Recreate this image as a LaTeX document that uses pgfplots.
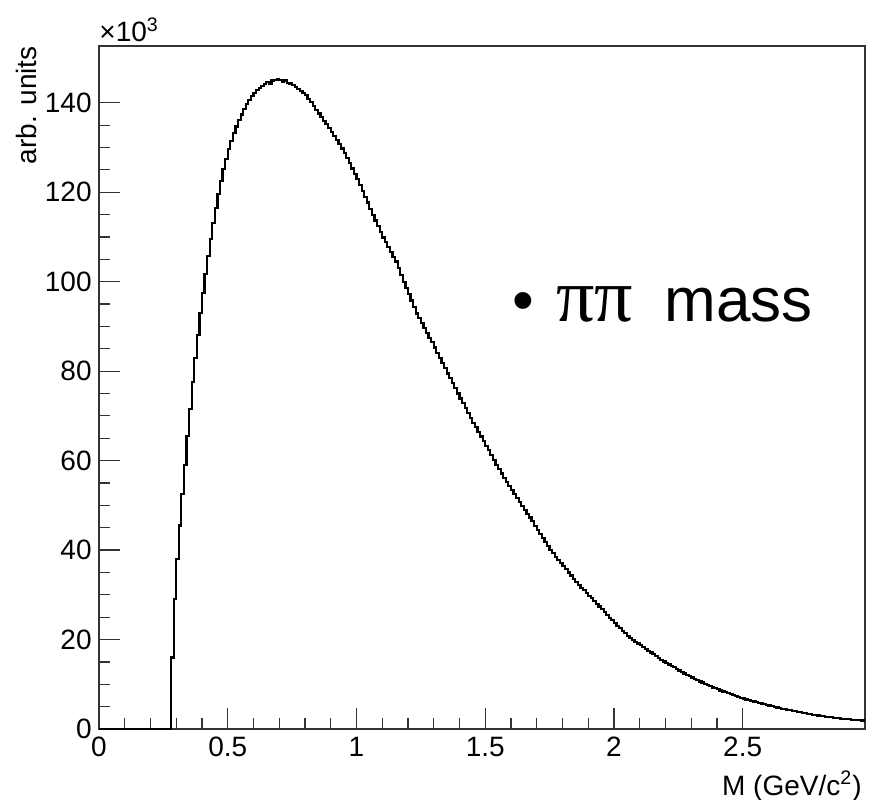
\documentclass[border=0pt]{standalone}
\usepackage{pgfplots}
\pgfplotsset{compat=1.18}
\usepackage{pgfplotstable}
\usepackage{fontspec}
\setmainfont{Liberation Sans}
\newfontfamily\pifont{Liberation Serif}

\pgfplotstableread[row sep=\\]{
x y\\
0 0\\
0.28 16\\ 0.29 29\\ 0.30 38\\ 0.31 45.5\\ 0.32 52.5\\ 0.33 59\\ 0.34 65.5\\ 0.35 71.5\\ 0.36 77.5\\ 0.37 83\\
0.38 88\\ 0.39 93\\ 0.40 97.5\\ 0.41 101.8\\ 0.42 105.8\\ 0.43 109.6\\ 0.44 113.2\\ 0.45 116.5\\ 0.46 119.6\\ 0.47 122.5\\
0.48 125.2\\ 0.49 127.5\\ 0.50 129.6\\ 0.51 131.5\\ 0.52 133.2\\ 0.53 134.7\\ 0.54 136.1\\ 0.55 137.4\\ 0.56 138.6\\ 0.57 139.7\\
0.58 140.7\\ 0.59 141.5\\ 0.60 142.2\\ 0.61 142.8\\ 0.62 143.3\\ 0.63 143.8\\ 0.64 144.2\\ 0.65 144.6\\ 0.66 144.3\\ 0.67 145.0\\
0.68 145.1\\ 0.69 145.3\\ 0.70 145.1\\ 0.71 144.7\\ 0.72 145.0\\ 0.73 144.5\\ 0.74 144.3\\ 0.75 143.9\\ 0.76 143.5\\ 0.77 143.1\\
0.78 142.6\\ 0.79 142.2\\ 0.80 141.7\\ 0.81 140.9\\ 0.82 140.1\\ 0.83 139.3\\ 0.84 138.4\\ 0.85 137.6\\ 0.86 136.8\\ 0.87 136.0\\
0.88 135.2\\ 0.89 134.4\\ 0.90 133.5\\ 0.91 132.6\\ 0.92 131.7\\ 0.93 130.8\\ 0.94 129.8\\ 0.95 128.7\\ 0.96 127.6\\ 0.97 126.5\\
0.98 125.3\\ 0.99 124.1\\ 1.00 122.9\\ 1.01 121.6\\ 1.02 120.3\\ 1.03 119.0\\ 1.04 117.7\\ 1.05 116.3\\ 1.06 115.0\\ 1.07 113.7\\
1.08 112.4\\ 1.09 111.1\\ 1.10 109.9\\ 1.11 108.8\\ 1.12 107.7\\ 1.13 106.6\\ 1.14 105.6\\ 1.15 104.5\\ 1.16 103.0\\ 1.17 101.5\\
1.18 100.0\\ 1.19 98.6\\ 1.20 97.2\\ 1.21 95.8\\ 1.22 94.3\\ 1.23 92.9\\ 1.24 91.8\\ 1.25 90.7\\ 1.26 89.6\\ 1.27 88.5\\
1.28 87.5\\ 1.29 86.5\\ 1.30 85.3\\ 1.31 84.1\\ 1.32 83.0\\ 1.33 81.8\\ 1.34 80.7\\ 1.35 79.5\\ 1.36 78.4\\ 1.37 77.3\\
1.38 76.2\\ 1.39 75.0\\ 1.40 73.9\\ 1.41 72.8\\ 1.42 71.7\\ 1.43 70.6\\ 1.44 69.6\\ 1.45 68.5\\ 1.46 67.5\\ 1.47 66.4\\
1.48 65.4\\ 1.49 64.3\\ 1.50 63.3\\ 1.51 62.3\\ 1.52 61.2\\ 1.53 60.2\\ 1.54 59.1\\ 1.55 58.1\\ 1.56 57.1\\ 1.57 56.2\\
1.58 55.3\\ 1.59 54.4\\ 1.60 53.5\\ 1.61 52.6\\ 1.62 51.7\\ 1.63 50.8\\ 1.64 49.9\\ 1.65 49.0\\ 1.66 48.1\\ 1.67 47.3\\
1.68 46.5\\ 1.69 45.4\\ 1.70 44.5\\ 1.71 43.6\\ 1.72 42.7\\ 1.73 41.8\\ 1.74 40.9\\ 1.75 40.1\\ 1.76 39.3\\ 1.77 38.5\\
1.78 37.8\\ 1.79 37.1\\ 1.80 36.4\\ 1.81 35.7\\ 1.82 35.0\\ 1.83 34.3\\ 1.84 33.6\\ 1.85 32.9\\ 1.86 32.2\\ 1.87 31.6\\
1.88 31.0\\ 1.89 30.4\\ 1.90 29.8\\ 1.91 29.2\\ 1.92 28.6\\ 1.93 28.0\\ 1.94 27.4\\ 1.95 26.8\\ 1.96 26.1\\ 1.97 25.5\\
1.98 24.9\\ 1.99 24.3\\ 2.00 23.7\\ 2.01 23.1\\ 2.02 22.5\\ 2.03 21.9\\ 2.04 21.4\\ 2.05 20.8\\ 2.06 20.3\\ 2.07 19.9\\
2.08 19.5\\ 2.09 19.1\\ 2.10 18.7\\ 2.11 18.3\\ 2.12 17.9\\ 2.13 17.5\\ 2.14 17.1\\ 2.15 16.7\\ 2.16 16.3\\ 2.17 15.9\\
2.18 15.5\\ 2.19 15.1\\ 2.20 14.8\\ 2.21 14.4\\ 2.22 14.1\\ 2.23 13.8\\ 2.24 13.4\\ 2.25 13.1\\ 2.26 12.7\\ 2.27 12.4\\
2.28 12.1\\ 2.29 11.8\\ 2.30 11.5\\ 2.31 11.2\\ 2.32 10.9\\ 2.33 10.6\\ 2.34 10.4\\ 2.35 10.1\\ 2.36 9.8\\ 2.37 9.6\\
2.38 9.3\\ 2.39 9.1\\ 2.40 8.9\\ 2.41 8.6\\ 2.42 8.4\\ 2.43 8.2\\ 2.44 8.0\\ 2.45 7.8\\ 2.46 7.6\\ 2.47 7.4\\
2.48 7.2\\ 2.49 7.0\\ 2.50 6.8\\ 2.51 6.6\\ 2.52 6.45\\ 2.53 6.3\\ 2.54 6.15\\ 2.55 6.0\\ 2.56 5.85\\ 2.57 5.7\\
2.58 5.55\\ 2.59 5.4\\ 2.60 5.25\\ 2.61 5.1\\ 2.62 4.95\\ 2.63 4.8\\ 2.64 4.65\\ 2.65 4.55\\ 2.66 4.45\\ 2.67 4.3\\
2.68 4.2\\ 2.69 4.1\\ 2.70 3.95\\ 2.71 3.85\\ 2.72 3.75\\ 2.73 3.6\\ 2.74 3.5\\ 2.75 3.4\\ 2.76 3.3\\ 2.77 3.2\\
2.78 3.1\\ 2.79 3.0\\ 2.80 2.95\\ 2.81 2.85\\ 2.82 2.75\\ 2.83 2.7\\ 2.84 2.6\\ 2.85 2.5\\ 2.86 2.45\\ 2.87 2.4\\
2.88 2.3\\ 2.89 2.25\\ 2.90 2.2\\ 2.91 2.15\\ 2.92 2.1\\ 2.93 2.05\\ 2.94 2.0\\ 2.95 1.95\\ 2.96 1.9\\ 2.97 1.85\\
2.975 1.85\\
}\histdata

\begin{document}
\begin{tikzpicture}
\begin{axis}[
  name=ax,
  scale only axis,
  width=383bp, height=341.5bp,
  xmin=0, xmax=2.975, ymin=0, ymax=152.7,
  clip=false,
  axis line style={line width=0.6bp, black!80},
  xtick={0,0.5,1,1.5,2,2.5},
  ytick={0,20,40,60,80,100,120,140},
  minor x tick num=4,
  minor y tick num=3,
  tick align=inside,
  xtick pos=bottom, ytick pos=left,
  major tick length=10.5bp,
  minor tick length=5.5bp,
  tick style={line width=0.6bp, black!80},
  scaled ticks=false,
  /pgf/number format/assume math mode=true,
  tick label style={font=\fontsize{14bp}{16bp}\selectfont},
  xticklabel style={anchor=north, inner sep=0pt, yshift=-4bp},
  yticklabel style={anchor=east, inner sep=0pt, xshift=-3.5bp},
]
\addplot[const plot mark left, line width=1.1bp, black, mark=none] table[x=x, y=y] {\histdata};
\node[anchor=base west, inner sep=0pt, font=\fontsize{31bp}{36bp}\selectfont] at (axis cs:1.604,91.0) {•\hspace{11bp}{\pifont\fontsize{38bp}{40bp}\selectfont ππ}\hspace{16bp}mass};
\node[anchor=base west, inner sep=0pt, font=\fontsize{14bp}{16bp}\selectfont] at ([yshift=2bp]rel axis cs:0,1) {×10\textsuperscript{3}};
\node[anchor=base east, inner sep=0pt, font=\fontsize{14bp}{16bp}\selectfont] at ([xshift=-1.5bp,yshift=-33bp]rel axis cs:1,0) {M (GeV/c\textsuperscript{2})};
\node[anchor=base east, rotate=90, inner sep=0pt, font=\fontsize{14bp}{16bp}\selectfont] at ([xshift=-31bp]rel axis cs:0,1) {arb. units};
\end{axis}
\pgfresetboundingbox
\path ([xshift=-49.5bp,yshift=-35.5bp]ax.south west) rectangle ([xshift=2bp,yshift=23bp]ax.north east);
\end{tikzpicture}
\end{document}
